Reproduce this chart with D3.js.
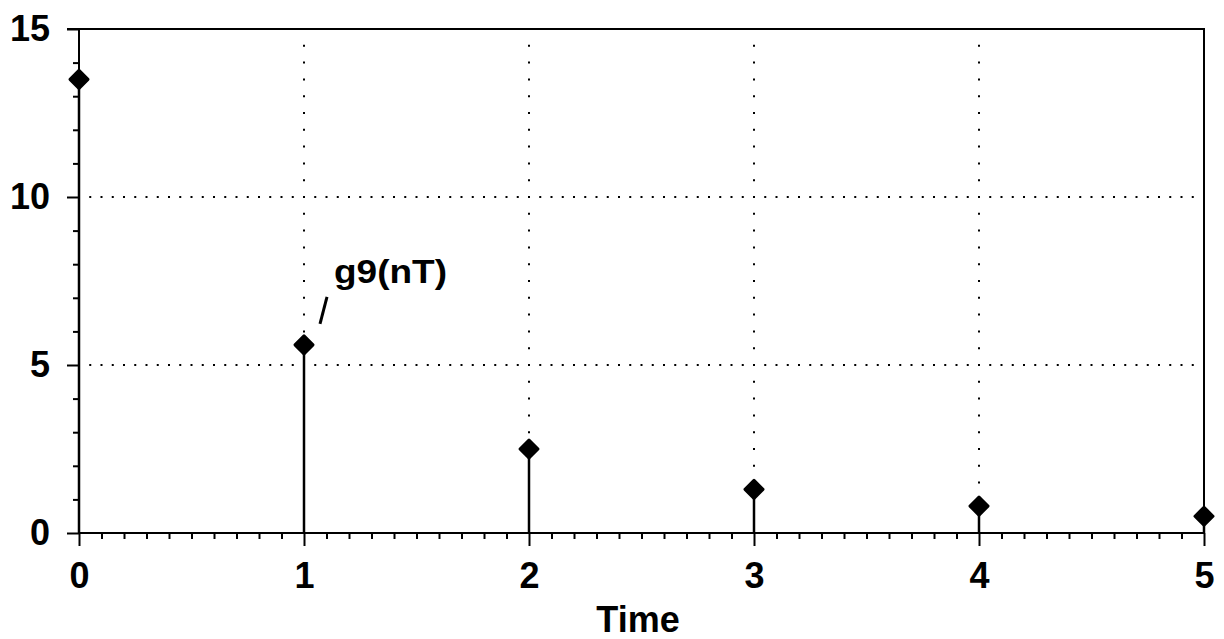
<!DOCTYPE html>
<html>
<head>
<meta charset="utf-8">
<script src="https://cdn.jsdelivr.net/npm/d3@7/dist/d3.min.js"></script>
<style>
  html, body { margin: 0; padding: 0; background: #fff; }
  svg { display: block; }
  text { font-family: "Liberation Sans", Arial, sans-serif; fill: #000; }
</style>
</head>
<body>
<svg id="chart" width="1224" height="639"></svg>
<script>
// Sampled response g9(nT)
const times = [0, 1, 2, 3, 4, 5];
const values = [13.5, 5.6, 2.5, 1.3, 0.8, 0.5];
const xTickValues = [0, 1, 2, 3, 4, 5];
const yTickValues = [0, 5, 10, 15];
const xGridValues = [1, 2, 3, 4];
const yGridValues = [5, 10];
const seriesLabel = "g9(nT)";
const xTitle = "Time";

const plotLeft = 79, plotRight = 1204, plotTop = 29, plotBottom = 533;

const svg = d3.select("#chart");
const x = d3.scaleLinear().domain([0, 5]).range([plotLeft, plotRight]);
const y = d3.scaleLinear().domain([0, 15]).range([plotBottom, plotTop]);

// dotted grid
const hPeriod = (plotRight - plotLeft) / 100;
const vPeriod = (plotBottom - plotTop) / 30;
svg.append("g").selectAll("line").data(xGridValues).join("line")
  .attr("x1", d => x(d)).attr("x2", d => x(d))
  .attr("y1", y(0)).attr("y2", y(15))
  .attr("stroke", "#000").attr("stroke-width", 2)
  .attr("stroke-dasharray", `2,${vPeriod - 2}`)
  .attr("stroke-dashoffset", 1);
svg.append("g").selectAll("line").data(yGridValues).join("line")
  .attr("x1", x(0)).attr("x2", x(5))
  .attr("y1", d => y(d)).attr("y2", d => y(d))
  .attr("stroke", "#000").attr("stroke-width", 2)
  .attr("stroke-dasharray", `2,${hPeriod - 2}`)
  .attr("stroke-dashoffset", 1);

// frame: top and right edges
svg.append("path")
  .attr("d", `M${x(0) - 12},${y(15)}H${x(5)}V${y(0)}`)
  .attr("fill", "none").attr("stroke", "#000").attr("stroke-width", 2);

// minor ticks
const xMinor = d3.range(0, 50).map(i => i / 10).filter(v => Math.abs(v - Math.round(v)) > 1e-6);
const yMinor = d3.range(0, 15).filter(v => v % 5 !== 0);

const xMinorAxis = svg.append("g").attr("transform", `translate(0,${y(0)})`)
  .call(d3.axisBottom(x).tickValues(xMinor).tickSize(6).tickFormat(""));
const xMajorAxis = svg.append("g").attr("transform", `translate(0,${y(0)})`)
  .call(d3.axisBottom(x).tickValues(xTickValues).tickSize(13).tickPadding(16)
    .tickFormat(d3.format("d")));
const yMinorAxis = svg.append("g").attr("transform", `translate(${x(0)},0)`)
  .call(d3.axisLeft(y).tickValues(yMinor).tickSize(6).tickFormat(""));
const yMajorAxis = svg.append("g").attr("transform", `translate(${x(0)},0)`)
  .call(d3.axisLeft(y).tickValues(yTickValues).tickSize(12).tickPadding(17)
    .tickFormat(d3.format("d")));

[xMinorAxis, xMajorAxis, yMinorAxis, yMajorAxis].forEach(g => {
  g.select(".domain").remove();
  g.selectAll(".tick line").attr("stroke", "#000").attr("stroke-width", 2);
  g.selectAll(".tick text").attr("font-size", 36).attr("font-weight", "bold")
    .attr("font-family", "'Liberation Sans', Arial, sans-serif").attr("fill", "#000");
});
xMajorAxis.selectAll(".tick text").attr("dy", "0.72em");

// axis lines
svg.append("line").attr("x1", x(0)).attr("x2", x(5)).attr("y1", y(0)).attr("y2", y(0))
  .attr("stroke", "#000").attr("stroke-width", 2);
svg.append("line").attr("x1", x(0)).attr("x2", x(0)).attr("y1", y(0)).attr("y2", y(15))
  .attr("stroke", "#000").attr("stroke-width", 2);

// stems
svg.append("g").selectAll("line").data(times).join("line")
  .attr("x1", d => x(d)).attr("x2", d => x(d))
  .attr("y1", y(0)).attr("y2", (d, i) => y(values[i]))
  .attr("stroke", "#000").attr("stroke-width", 2.5);

// diamond markers
const r = 9;
svg.append("g").selectAll("path").data(times).join("path")
  .attr("transform", (d, i) => `translate(${x(d)},${y(values[i])})`)
  .attr("d", `M0,${-r}L${r},0L0,${r}L${-r},0Z`)
  .attr("fill", "#000").attr("stroke", "#000").attr("stroke-width", 3)
  .attr("stroke-linejoin", "round");

// series label with leader
const ax = x(times[1]), ay = y(values[1]);
svg.append("line")
  .attr("x1", ax + 16).attr("y1", ay - 21)
  .attr("x2", ax + 23).attr("y2", ay - 48)
  .attr("stroke", "#000").attr("stroke-width", 3);
svg.append("text")
  .attr("x", ax + 30).attr("y", ay - 62)
  .attr("font-size", 34).attr("font-weight", "bold")
  .attr("textLength", 113).attr("lengthAdjust", "spacingAndGlyphs")
  .text(seriesLabel);

// x-axis title
svg.append("text")
  .attr("x", 638).attr("y", 632)
  .attr("text-anchor", "middle")
  .attr("font-size", 36).attr("font-weight", "bold")
  .text(xTitle);
</script>
</body>
</html>
